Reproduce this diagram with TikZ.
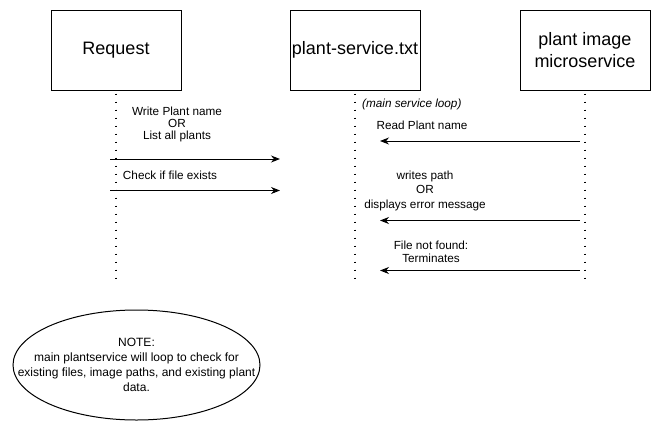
\documentclass[tikz,border=0pt]{standalone}
\usepackage{fontspec}
\setmainfont{Liberation Sans}
\usetikzlibrary{arrows.meta,shapes.geometric}
\begin{document}
\begin{tikzpicture}[
			x=1pt,y=-1pt,
			actor/.style={draw,line width=1pt,minimum width=130pt,minimum height=80pt,inner sep=1pt,align=center,font=\fontsize{18}{21.6}\selectfont},
			lifeline/.style={line width=1.4pt,dash pattern=on 1.4pt off 6.6pt},
			msg/.style={line width=1pt,-{Stealth[length=9pt,width=7pt]}},
			txt/.style={inner sep=0pt,align=center,font=\fontsize{11.75}{13.5}\selectfont}
		]
		\useasboundingbox (0,0) rectangle (661,431);
		\node[actor] (request) at (116,50) {Request};
		\node[actor] (plantservice) at (355,50) {plant-service.txt};
		\node[actor] (plantimage) at (585,50) {plant image\\microservice};
		\coordinate (requestend) at (116,280);
		\coordinate (plantserviceend) at (355,280);
		\coordinate (plantimageend) at (585,280);
		\draw[lifeline] ([yshift=-3pt]request.south) -- (requestend);
		\draw[lifeline] ([yshift=-3pt]plantservice.south) -- (plantserviceend);
		\draw[lifeline] ([yshift=-3pt]plantimage.south) -- (plantimageend);
		\coordinate (writefrom) at (110,159);
		\coordinate (writeto) at (280,159);
		\coordinate (checkfrom) at (110,190.5);
		\coordinate (checkto) at (280,190.5);
		\coordinate (readfrom) at (580,141);
		\coordinate (readto) at (380,141);
		\coordinate (pathfrom) at (580,220.5);
		\coordinate (pathto) at (380,220.5);
		\coordinate (notfoundfrom) at (580,270.5);
		\coordinate (notfoundto) at (380,270.5);
		\draw[msg] (writefrom) -- (writeto);
		\draw[msg] (checkfrom) -- (checkto);
		\draw[msg] (readfrom) -- (readto);
		\draw[msg] (pathfrom) -- (pathto);
		\draw[msg] (notfoundfrom) -- (notfoundto);
		\node[txt,font=\fontsize{11.75}{12.3}\selectfont] (writelabel) at (177,124.5) {Write Plant name\\OR\\List all plants};
		\node[txt] (checklabel) at (170,175) {Check if file exists};
		\node[txt,font=\fontsize{11.75}{13.5}\selectfont\itshape,anchor=west] (looplabel) at (362,104.5) {(main service loop)};
		\node[txt] (readlabel) at (422,125) {Read Plant name};
		\node[txt,font=\fontsize{11.75}{14.5}\selectfont] (pathlabel) at (425,190.5) {writes path\\OR\\displays error message};
		\node[txt,font=\fontsize{11.75}{13}\selectfont] (notfoundlabel) at (431,251.5) {File not found:\\Terminates};
		\node[draw,ellipse,line width=1pt,minimum width=247pt,minimum height=110pt,inner sep=0pt] (note) at (136.5,365) {};
		\node[txt,font=\fontsize{12}{15}\selectfont] (notetext) at (note.center) {NOTE:\\main plantservice will loop to check for\\existing files, image paths, and existing plant\\data.};
	\end{tikzpicture}
\end{document}
